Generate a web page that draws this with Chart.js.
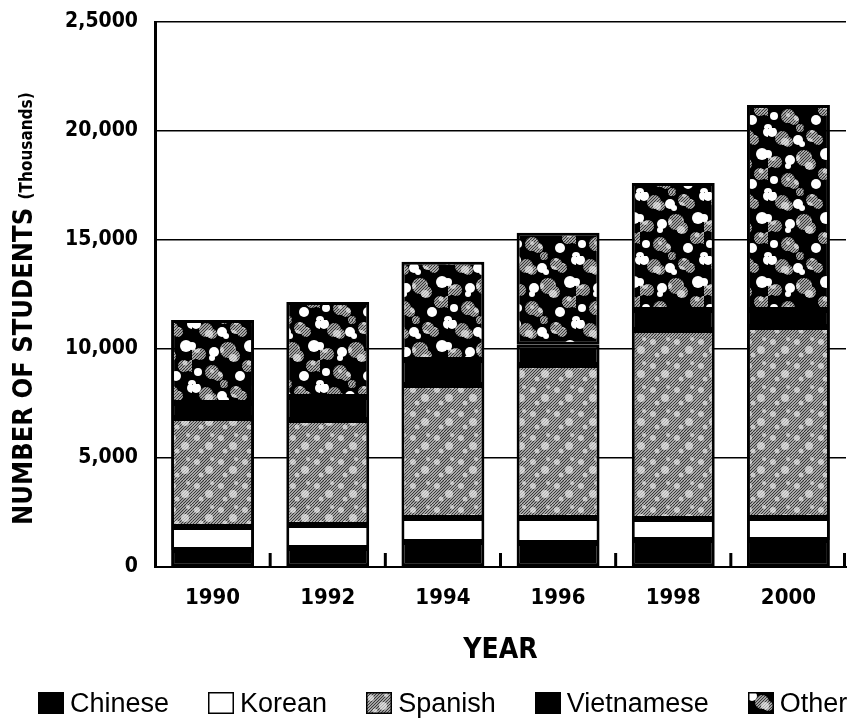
<!DOCTYPE html>
<html>
<head>
<meta charset="utf-8">
<title>Number of students by language</title>
<script src="https://cdn.jsdelivr.net/npm/chart.js@4.4.0/dist/chart.umd.min.js"></script>
<style>
  body { margin: 0; background: #fff; }
  #wrap { position: relative; width: 857px; height: 719px; }
  #legend {
    position: absolute; left: 38px; top: 690px; height: 26px;
    display: flex; align-items: center; gap: 39px;
    font: 27px 'Liberation Sans', Arial, sans-serif; color: #000; white-space: nowrap;
  }
  #legend .item { display: flex; align-items: center; gap: 6px; }
  #legend canvas { display: block; }
</style>
</head>
<body>
<div id="wrap">
  <canvas id="studentsChart" width="857" height="719"></canvas>
  <div id="legend"></div>
</div>
<script>
// valores (número de estudantes)
const years = ['1990', '1992', '1994', '1996', '1998', '2000'];
const chinese = [780, 870, 1150, 1100, 1240, 1240];
const korean = [1055, 1055, 1100, 1150, 960, 1010];
const spanish = [5000, 4815, 6100, 7020, 8670, 8760];
const vietnamese = [690, 1055, 1150, 920, 920, 780];
const other = [3810, 4360, 4500, 5140, 5830, 9400];
const yTickLabels = ['0', '5,000', '10,000', '15,000', '20,000', '2,5000'];

const condensed = "'DejaVu Sans Condensed', 'DejaVu Sans', sans-serif";

// textura cinza pontilhada (Spanish)
function speckleTile() {
    const c = document.createElement('canvas');
    c.width = 24; c.height = 24;
    const g = c.getContext('2d');
    g.fillStyle = '#d9d9d9';
    g.fillRect(0, 0, 24, 24);
    g.strokeStyle = '#333';
    g.lineWidth = 1.2;
    for (let k = -24; k < 48; k += 3) {
        g.beginPath();
        g.moveTo(k, 24);
        g.lineTo(k + 24, 0);
        g.stroke();
    }
    g.fillStyle = 'rgba(255,255,255,0.6)';
    [[5, 6, 3], [17, 14, 4], [9, 19, 2.5], [20, 3, 2]].forEach(p => {
        g.beginPath(); g.arc(p[0], p[1], p[2], 0, Math.PI * 2); g.fill();
    });
    return c;
}

// textura camuflada (Other)
function camoTile(speckle) {
    const c = document.createElement('canvas');
    c.width = 64; c.height = 64;
    const g = c.getContext('2d');
    g.fillStyle = '#000';
    g.fillRect(0, 0, 64, 64);
    const blob = (pts) => pts.forEach(p => {
        g.beginPath(); g.arc(p[0], p[1], p[2], 0, Math.PI * 2); g.fill();
    });
    g.fillStyle = g.createPattern(speckle, 'repeat');
    blob([[14, 10, 7], [20, 14, 5], [44, 8, 6], [50, 12, 5], [8, 34, 6], [36, 30, 8], [42, 36, 6],
          [56, 46, 6], [20, 52, 7], [26, 56, 5], [0, 34, 6], [64, 46, 6], [32, 0, 4], [32, 64, 4]]);
    g.fillStyle = '#fff';
    blob([[4, 4, 5], [30, 12, 5], [34, 16, 3], [58, 26, 6], [22, 32, 5], [20, 38, 3],
          [48, 56, 5], [6, 52, 4], [64, 4, 5], [0, 64, 4], [64, 64, 4], [0, 26, 4], [64, 26, 4]]);
    return c;
}

const ctx = document.getElementById('studentsChart').getContext('2d');
const speckle = speckleTile();
const camo = camoTile(speckle);
const tiles = { Spanish: speckle, Other: camo };

// pequenas marcas verticais entre as barras, na base
const boundaryTicks = {
    id: 'boundaryTicks',
    afterDatasetsDraw(chart) {
        const x = chart.scales.x;
        const area = chart.chartArea;
        const c = chart.ctx;
        c.save();
        c.strokeStyle = '#000';
        c.lineWidth = 3;
        for (let i = 0; i < years.length; i++) {
            let px;
            if (i < years.length - 1) px = (x.getPixelForValue(i) + x.getPixelForValue(i + 1)) / 2;
            else px = area.right - 1.5;
            c.beginPath();
            c.moveTo(px, area.bottom - 14);
            c.lineTo(px, area.bottom);
            c.stroke();
        }
        c.restore();
    }
};

// título do eixo y com dois tamanhos de fonte
const yTitle = {
    id: 'yTitle',
    afterDraw(chart) {
        const area = chart.chartArea;
        const c = chart.ctx;
        c.save();
        c.translate(32, area.bottom - 42);
        c.rotate(-Math.PI / 2);
        c.fillStyle = '#000';
        c.textBaseline = 'alphabetic';
        c.textAlign = 'left';
        c.font = 'bold 27px ' + condensed;
        const main = 'NUMBER OF STUDENTS ';
        c.fillText(main, 0, 0);
        const w = c.measureText(main).width;
        c.font = 'bold 17px ' + condensed;
        c.fillText('(Thousands)', w, 0);
        c.restore();
    }
};

const barStyle = { borderColor: '#000', borderWidth: 3, borderSkipped: false };

const chart = new Chart(ctx, {
    type: 'bar',
    data: {
        labels: years,
        datasets: [
            { label: 'Chinese', data: chinese, backgroundColor: '#000', ...barStyle },
            { label: 'Korean', data: korean, backgroundColor: '#fff', ...barStyle },
            { label: 'Spanish', data: spanish, backgroundColor: ctx.createPattern(speckle, 'repeat'), ...barStyle },
            { label: 'Vietnamese', data: vietnamese, backgroundColor: '#000', ...barStyle },
            { label: 'Other', data: other, backgroundColor: ctx.createPattern(camo, 'repeat'), ...barStyle }
        ]
    },
    options: {
        responsive: false,
        animation: false,
        devicePixelRatio: 1,
        layout: { padding: { top: 22, right: 11, bottom: 61.5, left: 4 } },
        datasets: { bar: { barPercentage: 0.72, categoryPercentage: 1 } },
        scales: {
            x: {
                stacked: true,
                offset: true,
                grid: { display: false, drawTicks: false },
                border: { display: true, color: '#000', width: 2 },
                ticks: { color: '#000', padding: 18, font: { family: condensed, size: 22, weight: 'bold' } },
                title: {
                    display: true, text: 'YEAR', color: '#000',
                    font: { family: condensed, size: 28, weight: 'bold', lineHeight: 0.5 },
                    padding: { top: 0, bottom: 0 }
                },
                afterFit(scale) { scale.height = 90.5; }
            },
            y: {
                stacked: true,
                min: 0,
                max: 25000,
                grid: { color: '#000', lineWidth: 1.5, drawTicks: false },
                border: { display: true, color: '#000', width: 3 },
                ticks: {
                    stepSize: 5000,
                    color: '#000',
                    padding: 17,
                    font: { family: condensed, size: 21, weight: 'bold', lineHeight: 0.4 },
                    callback: (v, i) => yTickLabels[i]
                },
                afterFit(scale) { scale.width = 151; }
            }
        },
        plugins: {
            tooltip: { enabled: false },
            legend: { display: false }
        }
    },
    plugins: [boundaryTicks, yTitle]
});

// legenda em HTML, montada a partir dos datasets
const legendEl = document.getElementById('legend');
chart.data.datasets.forEach(ds => {
    const item = document.createElement('div');
    item.className = 'item';
    const sw = document.createElement('canvas');
    sw.width = 26; sw.height = 22;
    const g = sw.getContext('2d');
    g.fillStyle = tiles[ds.label] ? g.createPattern(tiles[ds.label], 'repeat') : ds.backgroundColor;
    g.fillRect(0, 0, 26, 22);
    g.strokeStyle = '#000';
    g.lineWidth = 1.5;
    g.strokeRect(0.75, 0.75, 24.5, 20.5);
    const label = document.createElement('span');
    label.textContent = ds.label;
    item.appendChild(sw);
    item.appendChild(label);
    legendEl.appendChild(item);
});
</script>
</body>
</html>
